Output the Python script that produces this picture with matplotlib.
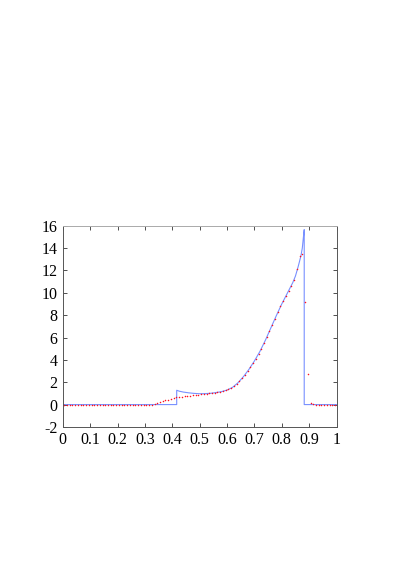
import matplotlib
matplotlib.use("Agg")
import matplotlib.pyplot as plt

# numerical solution, cell centres of a 100-cell grid
x_num = [(i + 0.5) / 100 for i in range(100)]
u_num = [0.0, 0.0, 0.0, 0.0, 0.0, 0.0, 0.0, 0.0, 0.0, 0.0,
         0.0, 0.0, 0.0, 0.0, 0.0, 0.0, 0.0, 0.0, 0.0, 0.0,
         0.0, 0.0, 0.0, 0.0, 0.0, 0.0, 0.0, 0.0, 0.0, 0.0,
         0.0, 0.0, 0.0, 0.04, 0.12, 0.2, 0.29, 0.37, 0.45, 0.53,
         0.6, 0.65, 0.69, 0.72, 0.75, 0.78, 0.81, 0.84, 0.87, 0.9,
         0.93, 0.96, 0.99, 1.01, 1.04, 1.06, 1.1, 1.14, 1.19, 1.26,
         1.35, 1.47, 1.63, 1.84, 2.08, 2.35, 2.65, 2.98, 3.33, 3.7,
         4.1, 4.5, 4.97, 5.5, 6.05, 6.6, 7.15, 7.7, 8.25, 8.8,
         9.3, 9.75, 10.2, 10.65, 11.12, 12.15, 13.25, 13.43, 9.19, 2.75,
         0.15, 0.04, 0.0, 0.0, 0.0, 0.0, 0.0, 0.0, 0.0, 0.0]

# exact solution
x_ex = [0.0, 0.416, 0.416, 0.425, 0.44, 0.46, 0.48, 0.5, 0.52, 0.54,
        0.56, 0.58, 0.6, 0.62, 0.64, 0.66, 0.68, 0.7, 0.72, 0.74,
        0.76, 0.78, 0.8, 0.82, 0.84, 0.85, 0.86, 0.87, 0.875, 0.88,
        0.882, 0.882, 1.0]
u_ex = [0.0, 0.0, 1.28, 1.2, 1.12, 1.05, 1.0, 0.97, 0.98, 1.01,
        1.08, 1.16, 1.3, 1.54, 1.95, 2.5, 3.15, 3.9, 4.75, 5.75,
        6.85, 7.95, 9.0, 9.95, 10.9, 11.5, 12.35, 13.3, 14.0, 15.2,
        15.65, 0.0, 0.0]

xticks = [0, 0.1, 0.2, 0.3, 0.4, 0.5, 0.6, 0.7, 0.8, 0.9, 1]
xlabels = ["0", "0.1", "0.2", "0.3", "0.4", "0.5", "0.6", "0.7", "0.8", "0.9", "1"]
yticks = [-2, 0, 2, 4, 6, 8, 10, 12, 14, 16]

plt.rcParams["font.family"] = "serif"
plt.rcParams["font.serif"] = ["Liberation Serif", "DejaVu Serif"]
plt.rcParams["font.size"] = 11.5
plt.rcParams["axes.unicode_minus"] = False

fig = plt.figure(figsize=(4.03, 5.70), dpi=100)
ax = fig.add_axes([0.156, 0.251, 0.679, 0.353])

ax.plot(x_ex, u_ex, color="#7890ff", lw=0.8)
ax.plot(x_num, u_num, ".", color="#ff1020", ms=2.2, mew=0)

ax.set_xlim(0, 1)
ax.set_ylim(-2, 16)
ax.set_xticks(xticks)
ax.set_xticklabels(xlabels)
ax.set_yticks(yticks)
ax.tick_params(direction="in", top=True, right=True, length=3, width=0.6,
               colors="#333333", labelcolor="black", pad=4)
for s in ax.spines.values():
    s.set_linewidth(0.7)
    s.set_color("#555555")
ax.spines["top"].set_color("#aaaaaa")

fig.savefig("out.png", dpi=100)
